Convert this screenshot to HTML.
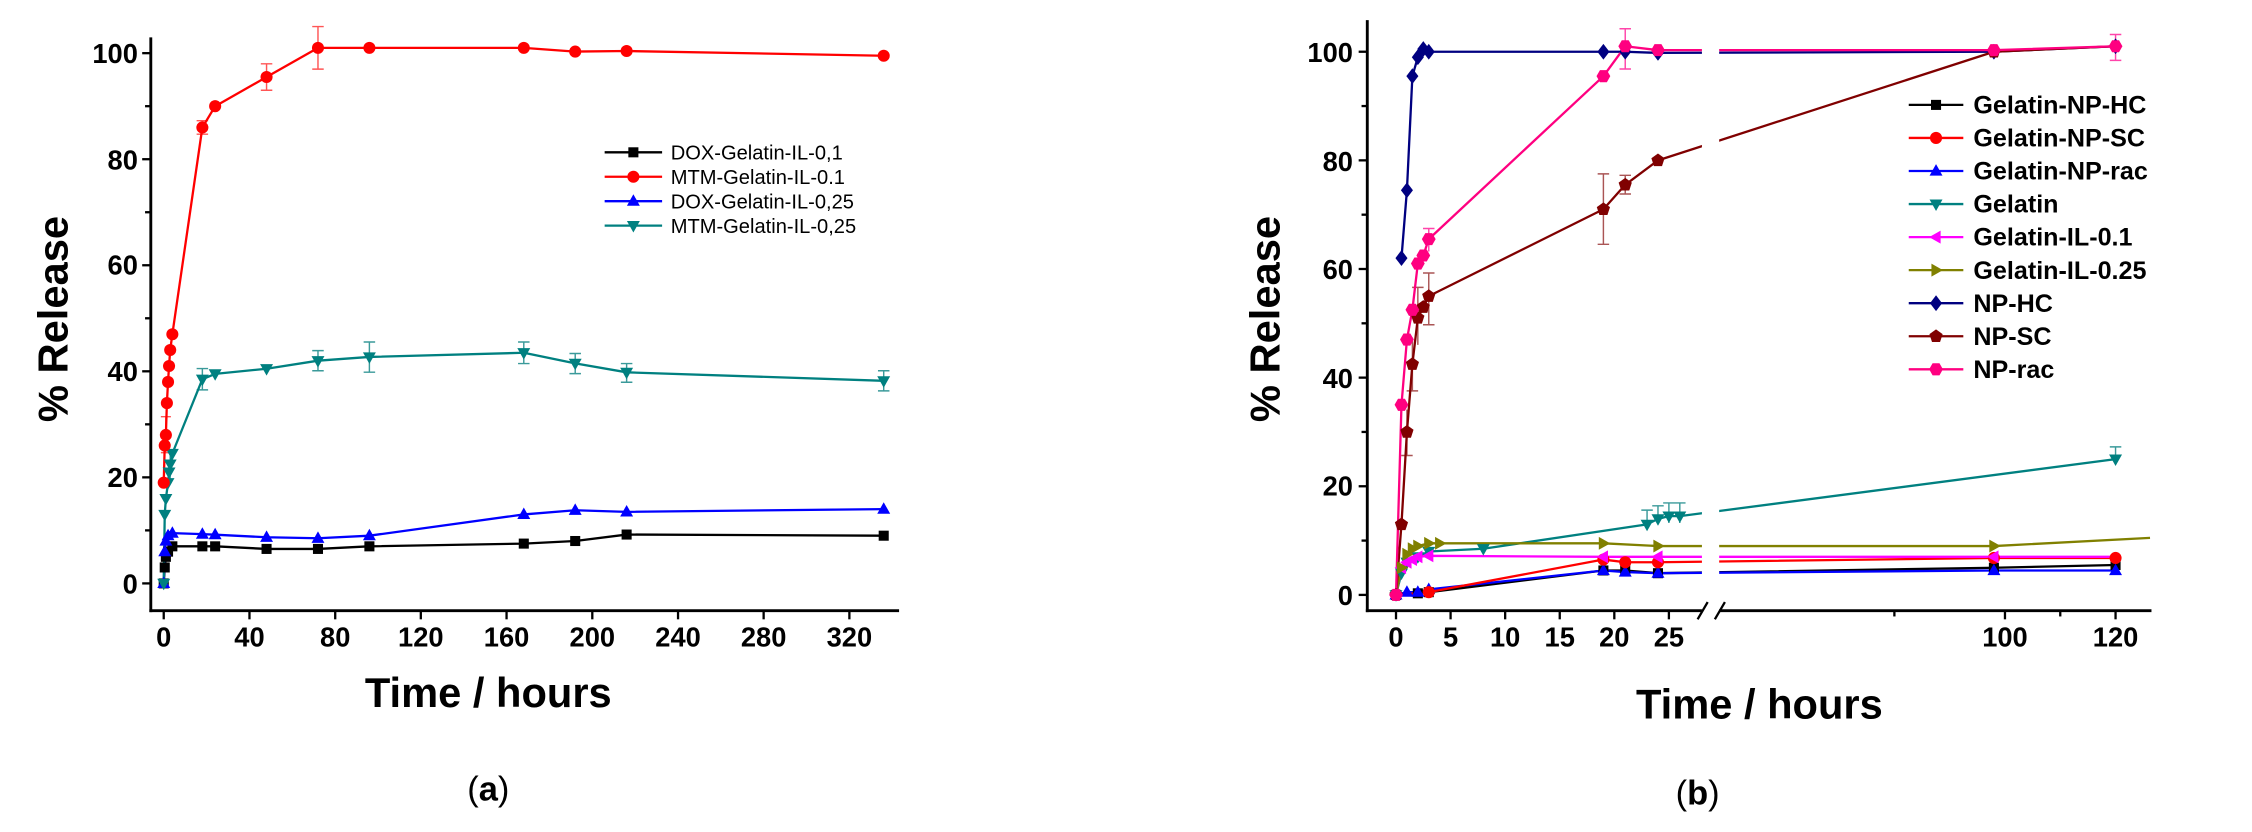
<!DOCTYPE html>
<html><head><meta charset="utf-8"><style>
html,body{margin:0;padding:0;background:#fff;width:2252px;height:832px;overflow:hidden}
svg{display:block}
text{font-family:"Liberation Sans",sans-serif}
.t{font-size:19px;font-weight:bold}
.ax{font-size:29px;font-weight:bold}
.lg{font-size:14px}
.lgb{font-size:17.5px;font-weight:bold}
</style></head><body>
<svg width="2252" height="832" viewBox="0 0 1568 579" preserveAspectRatio="none" xmlns="http://www.w3.org/2000/svg">
<defs>
<rect id="sq" x="-3.5" y="-3.5" width="7" height="7"/>
<circle id="ci" r="4.2"/>
<path id="tu" d="M0,-4.8 L4.5,3.2 L-4.5,3.2Z"/>
<path id="td" d="M0,4.8 L4.5,-3.2 L-4.5,-3.2Z"/>
<path id="tl" d="M-4.8,0 L3.2,-4.5 L3.2,4.5Z"/>
<path id="tr" d="M4.8,0 L-3.2,-4.5 L-3.2,4.5Z"/>
<path id="di" d="M0,-5.5 L4.2,0 L0,5.5 L-4.2,0Z"/>
<path id="pe" d="M0,-4.8 L4.6,-1.5 L2.8,4 L-2.8,4 L-4.6,-1.5Z"/>
<path id="hx" d="M-2.4,-4.2 L2.4,-4.2 L4.8,0 L2.4,4.2 L-2.4,4.2 L-4.8,0Z"/>
</defs>

<!-- ===== Panel a ===== -->
<g stroke="#000" stroke-width="2" fill="none">
<line x1="105" y1="26" x2="105" y2="426"/>
<line x1="104" y1="425" x2="626" y2="425"/>
</g>
<g stroke="#000" stroke-width="1.6">
<line x1="99" y1="406" x2="105" y2="406"/><line x1="99" y1="332.2" x2="105" y2="332.2"/><line x1="99" y1="258.4" x2="105" y2="258.4"/><line x1="99" y1="184.6" x2="105" y2="184.6"/><line x1="99" y1="110.8" x2="105" y2="110.8"/><line x1="99" y1="37" x2="105" y2="37"/>
<line x1="101" y1="369.1" x2="105" y2="369.1"/><line x1="101" y1="295.3" x2="105" y2="295.3"/><line x1="101" y1="221.5" x2="105" y2="221.5"/><line x1="101" y1="147.7" x2="105" y2="147.7"/><line x1="101" y1="73.9" x2="105" y2="73.9"/>
<line x1="114" y1="425" x2="114" y2="431"/><line x1="173.7" y1="425" x2="173.7" y2="431"/><line x1="233.4" y1="425" x2="233.4" y2="431"/><line x1="293" y1="425" x2="293" y2="431"/><line x1="352.7" y1="425" x2="352.7" y2="431"/><line x1="412.4" y1="425" x2="412.4" y2="431"/><line x1="472.1" y1="425" x2="472.1" y2="431"/><line x1="531.7" y1="425" x2="531.7" y2="431"/><line x1="591.4" y1="425" x2="591.4" y2="431"/>
</g>
<g class="t" text-anchor="end">
<text x="96" y="413">0</text><text x="96" y="339">20</text><text x="96" y="265">40</text><text x="96" y="191">60</text><text x="96" y="118">80</text><text x="96" y="44">100</text>
</g>
<g class="t" text-anchor="middle">
<text x="114" y="450">0</text><text x="173.7" y="450">40</text><text x="233.4" y="450">80</text><text x="293" y="450">120</text><text x="352.7" y="450">160</text><text x="412.4" y="450">200</text><text x="472.1" y="450">240</text><text x="531.7" y="450">280</text><text x="591.4" y="450">320</text>
</g>
<text class="ax" x="340" y="492" text-anchor="middle">Time / hours</text>
<text class="ax" transform="translate(47,222) rotate(-90)" text-anchor="middle">% Release</text>
<text x="340" y="557" text-anchor="middle" font-family="Liberation Serif,serif" font-size="24">(<tspan font-weight="bold">a</tspan>)</text>

<!-- error bars a -->
<g stroke-width="1" fill="none">
<g stroke="#f55"><path d="M221.4,18.5V48.1M217.4,18.5H225.4M217.4,48.1H225.4M185.6,44.4V62.8M181.6,44.4H189.6M181.6,62.8H189.6M140.9,84V93.4M136.9,84H144.9M136.9,93.4H144.9M115.5,290V315M112,290H119M112,315H119"/></g>
<g stroke="#3a9a9a"><path d="M140.9,256.5V271.3M136.9,256.5H144.9M136.9,271.3H144.9M221.4,244V258M217.4,244H225.4M217.4,258H225.4M257.2,238V259M253.2,238H261.2M253.2,259H261.2M364.7,238V253M360.7,238H368.7M360.7,253H368.7M400.5,246V260M396.5,246H404.5M396.5,260H404.5M436.3,253V266M432.3,253H440.3M432.3,266H440.3M615.3,258V272M611.3,258H619.3M611.3,272H619.3M118.5,313V333M115,313H122"/></g>
</g>
<!-- series a -->
<g fill="none" stroke-width="1.6" stroke-linejoin="round">
<polyline stroke="#000" points="114,406 114.7,394.9 115.5,387.5 117,383.9 120,380.2 140.9,380.2 149.8,380.2 185.6,382 221.4,382 257.2,380.2 364.7,378.3 400.5,376.5 436.3,372 615.3,372.8"/>
<polyline stroke="#00f" points="114,406 114.7,383.9 115.5,376.5 117,372.8 120,371 140.9,371.7 149.8,372.1 185.6,373.9 221.4,374.6 257.2,372.8 364.7,358 400.5,355.1 436.3,356.2 615.3,354.3"/>
<polyline stroke="#008080" points="114,406 114.7,358 115.5,347 117,335.9 117.7,328.5 118.5,323 120,315.6 140.9,263.9 149.8,260.2 185.6,256.6 221.4,251 257.2,248.4 364.7,245.5 400.5,252.9 436.3,259.1 615.3,265"/>
<polyline stroke="#f00" points="114,335.9 114.7,310 115.5,302.7 116.2,280.5 117,265.8 117.7,254.7 118.5,243.6 120,232.6 140.9,88.7 149.8,73.9 185.6,53.6 221.4,33.3 257.2,33.3 364.7,33.3 400.5,35.9 436.3,35.5 615.3,38.8"/>
</g>
<g fill="#000"><use href="#sq" x="114" y="406"/><use href="#sq" x="114.7" y="394.9"/><use href="#sq" x="115.5" y="387.5"/><use href="#sq" x="117" y="383.9"/><use href="#sq" x="120" y="380.2"/><use href="#sq" x="140.9" y="380.2"/><use href="#sq" x="149.8" y="380.2"/><use href="#sq" x="185.6" y="382"/><use href="#sq" x="221.4" y="382"/><use href="#sq" x="257.2" y="380.2"/><use href="#sq" x="364.7" y="378.3"/><use href="#sq" x="400.5" y="376.5"/><use href="#sq" x="436.3" y="372"/><use href="#sq" x="615.3" y="372.8"/></g>
<g fill="#00f"><use href="#tu" x="114" y="406"/><use href="#tu" x="114.7" y="383.9"/><use href="#tu" x="115.5" y="376.5"/><use href="#tu" x="117" y="372.8"/><use href="#tu" x="120" y="371"/><use href="#tu" x="140.9" y="371.7"/><use href="#tu" x="149.8" y="372.1"/><use href="#tu" x="185.6" y="373.9"/><use href="#tu" x="221.4" y="374.6"/><use href="#tu" x="257.2" y="372.8"/><use href="#tu" x="364.7" y="358"/><use href="#tu" x="400.5" y="355.1"/><use href="#tu" x="436.3" y="356.2"/><use href="#tu" x="615.3" y="354.3"/></g>
<g fill="#008080"><use href="#td" x="114" y="406"/><use href="#td" x="114.7" y="358"/><use href="#td" x="115.5" y="347"/><use href="#td" x="117" y="335.9"/><use href="#td" x="117.7" y="328.5"/><use href="#td" x="118.5" y="323"/><use href="#td" x="120" y="315.6"/><use href="#td" x="140.9" y="263.9"/><use href="#td" x="149.8" y="260.2"/><use href="#td" x="185.6" y="256.6"/><use href="#td" x="221.4" y="251"/><use href="#td" x="257.2" y="248.4"/><use href="#td" x="364.7" y="245.5"/><use href="#td" x="400.5" y="252.9"/><use href="#td" x="436.3" y="259.1"/><use href="#td" x="615.3" y="265"/></g>
<g fill="#f00"><use href="#ci" x="114" y="335.9"/><use href="#ci" x="114.7" y="310"/><use href="#ci" x="115.5" y="302.7"/><use href="#ci" x="116.2" y="280.5"/><use href="#ci" x="117" y="265.8"/><use href="#ci" x="117.7" y="254.7"/><use href="#ci" x="118.5" y="243.6"/><use href="#ci" x="120" y="232.6"/><use href="#ci" x="140.9" y="88.7"/><use href="#ci" x="149.8" y="73.9"/><use href="#ci" x="185.6" y="53.6"/><use href="#ci" x="221.4" y="33.3"/><use href="#ci" x="257.2" y="33.3"/><use href="#ci" x="364.7" y="33.3"/><use href="#ci" x="400.5" y="35.9"/><use href="#ci" x="436.3" y="35.5"/><use href="#ci" x="615.3" y="38.8"/></g>
<!-- legend a -->
<g stroke-width="1.6">
<line x1="421" y1="106" x2="461" y2="106" stroke="#000"/><use href="#sq" x="441" y="106" fill="#000"/>
<line x1="421" y1="123" x2="461" y2="123" stroke="#f00"/><use href="#ci" x="441" y="123" fill="#f00"/>
<line x1="421" y1="140" x2="461" y2="140" stroke="#00f"/><use href="#tu" x="441" y="140" fill="#00f"/>
<line x1="421" y1="157" x2="461" y2="157" stroke="#008080"/><use href="#td" x="441" y="157" fill="#008080"/>
</g>
<g class="lg"><text x="467" y="111">DOX-Gelatin-IL-0,1</text><text x="467" y="128">MTM-Gelatin-IL-0.1</text><text x="467" y="145">DOX-Gelatin-IL-0,25</text><text x="467" y="162">MTM-Gelatin-IL-0,25</text></g>

<!-- ===== Panel b ===== -->
<!-- error bars b -->
<g stroke-width="1" fill="none">
<g stroke="#a55"><path d="M1116.4,121V170M1112.4,121H1120.4M1112.4,170H1120.4M1131.6,122V135M1127.6,122H1135.6M1127.6,135H1135.6M994.8,190V226M990.8,190H998.8M990.8,226H998.8M987.2,200V240M983.2,200H991.2M979.6,320M983.4,235V272M979.4,272H987.4M979.6,285V317M975.6,317H983.6"/></g>
<g stroke="#f4a"><path d="M1131.6,20V48M1127.6,20H1135.6M1127.6,48H1135.6M994.8,159V175M990.8,159H998.8M1473,24V42M1469,24H1477M1469,42H1477"/></g>
<g stroke="#3a9a9a"><path d="M1146.8,355V368M1142.8,355H1150.8M1154.4,352V365M1150.4,352H1158.4M1162,350V364M1158,350H1166M1169.6,350V364M1165.6,350H1173.6M1473,311V323M1469,311H1477"/></g>
</g>
<g fill="none" stroke-width="1.6" stroke-linejoin="round">
<polyline stroke="#000" points="972,414 987.2,412.9 994.8,412.1 1116.4,397 1131.6,397 1154.4,398.9 1388.3,395.1 1473,393.2"/>
<polyline stroke="#00f" points="972,414 979.6,412.1 987.2,412.1 994.8,410.2 1116.4,397 1131.6,398.1 1154.4,398.9 1388.3,397 1473,397"/>
<polyline stroke="#f00" points="972,414 994.8,412.1 1116.4,389.4 1131.6,391.3 1154.4,391.3 1388.3,388.3 1473,388.3"/>
<polyline stroke="#008080" points="972,414 975.8,398.9 979.6,391.3 987.2,387.5 994.8,383.8 1032.8,381.9 1146.8,364.9 1154.4,361.1 1162,359.2 1169.6,359.2 1473,319.5"/>
<polyline stroke="#ff00ff" points="972,414 975.8,395.1 979.6,391.3 983.4,389.4 987.2,387.5 994.8,386.8 1116.4,387.5 1154.4,387.5 1388.3,387.5 1473,387.5"/>
<polyline stroke="#808000" points="972,414 975.8,395.1 979.6,385.7 983.4,381.9 987.2,380 994.8,378.1 1002.4,378.1 1116.4,378.1 1154.4,380 1388.3,380 1497,374.3"/>
<polyline stroke="#000080" points="975.8,179.6 979.6,132.4 983.4,53 987.2,39.8 991,34.1 994.8,36 1116.4,36 1131.6,36 1154.4,36.8 1388.3,36 1473,32.2"/>
<polyline stroke="#800000" points="972,414 975.8,364.9 979.6,300.6 983.4,253.4 987.2,221.2 991,213.7 994.8,206.1 1116.4,145.6 1131.6,128.6 1154.4,111.6 1388.3,36 1473,32.2"/>
<polyline stroke="#ff0080" points="972,414 975.8,281.7 979.6,236.3 983.4,215.6 987.2,183.4 991,177.8 994.8,166.4 1116.4,53 1131.6,32.2 1154.4,34.9 1388.3,34.9 1473,32.2"/>
</g>
<g fill="#000"><use href="#sq" x="972" y="414"/><use href="#sq" x="987.2" y="412.9"/><use href="#sq" x="994.8" y="412.1"/><use href="#sq" x="1116.4" y="397"/><use href="#sq" x="1131.6" y="397"/><use href="#sq" x="1154.4" y="398.9"/><use href="#sq" x="1388.3" y="395.1"/><use href="#sq" x="1473" y="393.2"/></g>
<g fill="#00f"><use href="#tu" x="972" y="414"/><use href="#tu" x="979.6" y="412.1"/><use href="#tu" x="987.2" y="412.1"/><use href="#tu" x="994.8" y="410.2"/><use href="#tu" x="1116.4" y="397"/><use href="#tu" x="1131.6" y="398.1"/><use href="#tu" x="1154.4" y="398.9"/><use href="#tu" x="1388.3" y="397"/><use href="#tu" x="1473" y="397"/></g>
<g fill="#f00"><use href="#ci" x="972" y="414"/><use href="#ci" x="994.8" y="412.1"/><use href="#ci" x="1116.4" y="389.4"/><use href="#ci" x="1131.6" y="391.3"/><use href="#ci" x="1154.4" y="391.3"/><use href="#ci" x="1388.3" y="388.3"/><use href="#ci" x="1473" y="388.3"/></g>
<g fill="#008080"><use href="#td" x="972" y="414"/><use href="#td" x="975.8" y="398.9"/><use href="#td" x="979.6" y="391.3"/><use href="#td" x="987.2" y="387.5"/><use href="#td" x="994.8" y="383.8"/><use href="#td" x="1032.8" y="381.9"/><use href="#td" x="1146.8" y="364.9"/><use href="#td" x="1154.4" y="361.1"/><use href="#td" x="1162" y="359.2"/><use href="#td" x="1169.6" y="359.2"/><use href="#td" x="1473" y="319.5"/></g>
<g fill="#ff00ff"><use href="#tl" x="975.8" y="395.1"/><use href="#tl" x="979.6" y="391.3"/><use href="#tl" x="983.4" y="389.4"/><use href="#tl" x="987.2" y="387.5"/><use href="#tl" x="994.8" y="386.8"/><use href="#tl" x="1116.4" y="387.5"/><use href="#tl" x="1154.4" y="387.5"/><use href="#tl" x="1388.3" y="387.5"/></g>
<g fill="#808000"><use href="#tr" x="975.8" y="395.1"/><use href="#tr" x="979.6" y="385.7"/><use href="#tr" x="983.4" y="381.9"/><use href="#tr" x="987.2" y="380"/><use href="#tr" x="994.8" y="378.1"/><use href="#tr" x="1002.4" y="378.1"/><use href="#tr" x="1116.4" y="378.1"/><use href="#tr" x="1154.4" y="380"/><use href="#tr" x="1388.3" y="380"/></g>
<g fill="#000080"><use href="#di" x="975.8" y="179.6"/><use href="#di" x="979.6" y="132.4"/><use href="#di" x="983.4" y="53"/><use href="#di" x="987.2" y="39.8"/><use href="#di" x="991" y="34.1"/><use href="#di" x="994.8" y="36"/><use href="#di" x="1116.4" y="36"/><use href="#di" x="1131.6" y="36"/><use href="#di" x="1154.4" y="36.8"/><use href="#di" x="1388.3" y="36"/><use href="#di" x="1473" y="32.2"/></g>
<g fill="#800000"><use href="#pe" x="972" y="414"/><use href="#pe" x="975.8" y="364.9"/><use href="#pe" x="979.6" y="300.6"/><use href="#pe" x="983.4" y="253.4"/><use href="#pe" x="987.2" y="221.2"/><use href="#pe" x="991" y="213.7"/><use href="#pe" x="994.8" y="206.1"/><use href="#pe" x="1116.4" y="145.6"/><use href="#pe" x="1131.6" y="128.6"/><use href="#pe" x="1154.4" y="111.6"/><use href="#pe" x="1388.3" y="36"/></g>
<g fill="#ff0080"><use href="#hx" x="972" y="414"/><use href="#hx" x="975.8" y="281.7"/><use href="#hx" x="979.6" y="236.3"/><use href="#hx" x="983.4" y="215.6"/><use href="#hx" x="987.2" y="183.4"/><use href="#hx" x="991" y="177.8"/><use href="#hx" x="994.8" y="166.4"/><use href="#hx" x="1116.4" y="53"/><use href="#hx" x="1131.6" y="32.2"/><use href="#hx" x="1154.4" y="34.9"/><use href="#hx" x="1388.3" y="34.9"/><use href="#hx" x="1473" y="32.2"/></g>
<!-- break gap -->
<rect x="1185" y="10" width="12" height="412" fill="#fff"/>
<g stroke="#000" stroke-width="2" fill="none">
<line x1="952" y1="14" x2="952" y2="426"/>
<line x1="951" y1="425" x2="1185" y2="425"/>
<line x1="1197" y1="425" x2="1498" y2="425"/>
</g>
<g stroke="#000" stroke-width="1.6">
<line x1="1182" y1="431" x2="1189" y2="419"/><line x1="1194" y1="431" x2="1201" y2="419"/>
<line x1="946" y1="414" x2="952" y2="414"/><line x1="946" y1="338.4" x2="952" y2="338.4"/><line x1="946" y1="262.8" x2="952" y2="262.8"/><line x1="946" y1="187.2" x2="952" y2="187.2"/><line x1="946" y1="111.6" x2="952" y2="111.6"/><line x1="946" y1="36" x2="952" y2="36"/>
<line x1="948" y1="376.2" x2="952" y2="376.2"/><line x1="948" y1="300.6" x2="952" y2="300.6"/><line x1="948" y1="225" x2="952" y2="225"/><line x1="948" y1="149.4" x2="952" y2="149.4"/><line x1="948" y1="73.8" x2="952" y2="73.8"/>
<line x1="972" y1="425" x2="972" y2="431"/><line x1="1010" y1="425" x2="1010" y2="431"/><line x1="1048" y1="425" x2="1048" y2="431"/><line x1="1086" y1="425" x2="1086" y2="431"/><line x1="1124" y1="425" x2="1124" y2="431"/><line x1="1162" y1="425" x2="1162" y2="431"/>
<line x1="1396" y1="425" x2="1396" y2="431"/><line x1="1473" y1="425" x2="1473" y2="431"/>
<line x1="1319" y1="425" x2="1319" y2="429"/><line x1="1434.5" y1="425" x2="1434.5" y2="429"/>
</g>
<g class="t" text-anchor="end">
<text x="942" y="421">0</text><text x="942" y="345">20</text><text x="942" y="270">40</text><text x="942" y="194">60</text><text x="942" y="119">80</text><text x="942" y="43">100</text>
</g>
<g class="t" text-anchor="middle">
<text x="972" y="450">0</text><text x="1010" y="450">5</text><text x="1048" y="450">10</text><text x="1086" y="450">15</text><text x="1124" y="450">20</text><text x="1162" y="450">25</text><text x="1396" y="450">100</text><text x="1473" y="450">120</text>
</g>
<text class="ax" x="1225" y="500" text-anchor="middle">Time / hours</text>
<text class="ax" transform="translate(891,222) rotate(-90)" text-anchor="middle">% Release</text>
<text x="1182" y="560" text-anchor="middle" font-family="Liberation Serif,serif" font-size="24">(<tspan font-weight="bold">b</tspan>)</text>
<!-- legend b -->
<g stroke-width="1.6">
<line x1="1329" y1="73" x2="1367" y2="73" stroke="#000"/><use href="#sq" x="1348" y="73" fill="#000"/>
<line x1="1329" y1="96" x2="1367" y2="96" stroke="#f00"/><use href="#ci" x="1348" y="96" fill="#f00"/>
<line x1="1329" y1="119" x2="1367" y2="119" stroke="#00f"/><use href="#tu" x="1348" y="119" fill="#00f"/>
<line x1="1329" y1="142" x2="1367" y2="142" stroke="#008080"/><use href="#td" x="1348" y="142" fill="#008080"/>
<line x1="1329" y1="165" x2="1367" y2="165" stroke="#ff00ff"/><use href="#tl" x="1348" y="165" fill="#ff00ff"/>
<line x1="1329" y1="188" x2="1367" y2="188" stroke="#808000"/><use href="#tr" x="1348" y="188" fill="#808000"/>
<line x1="1329" y1="211" x2="1367" y2="211" stroke="#000080"/><use href="#di" x="1348" y="211" fill="#000080"/>
<line x1="1329" y1="234" x2="1367" y2="234" stroke="#800000"/><use href="#pe" x="1348" y="234" fill="#800000"/>
<line x1="1329" y1="257" x2="1367" y2="257" stroke="#ff0080"/><use href="#hx" x="1348" y="257" fill="#ff0080"/>
</g>
<g class="lgb">
<text x="1374" y="79">Gelatin-NP-HC</text><text x="1374" y="102">Gelatin-NP-SC</text><text x="1374" y="125">Gelatin-NP-rac</text><text x="1374" y="148">Gelatin</text><text x="1374" y="171">Gelatin-IL-0.1</text><text x="1374" y="194">Gelatin-IL-0.25</text><text x="1374" y="217">NP-HC</text><text x="1374" y="240">NP-SC</text><text x="1374" y="263">NP-rac</text>
</g>
</svg>
</body></html>
